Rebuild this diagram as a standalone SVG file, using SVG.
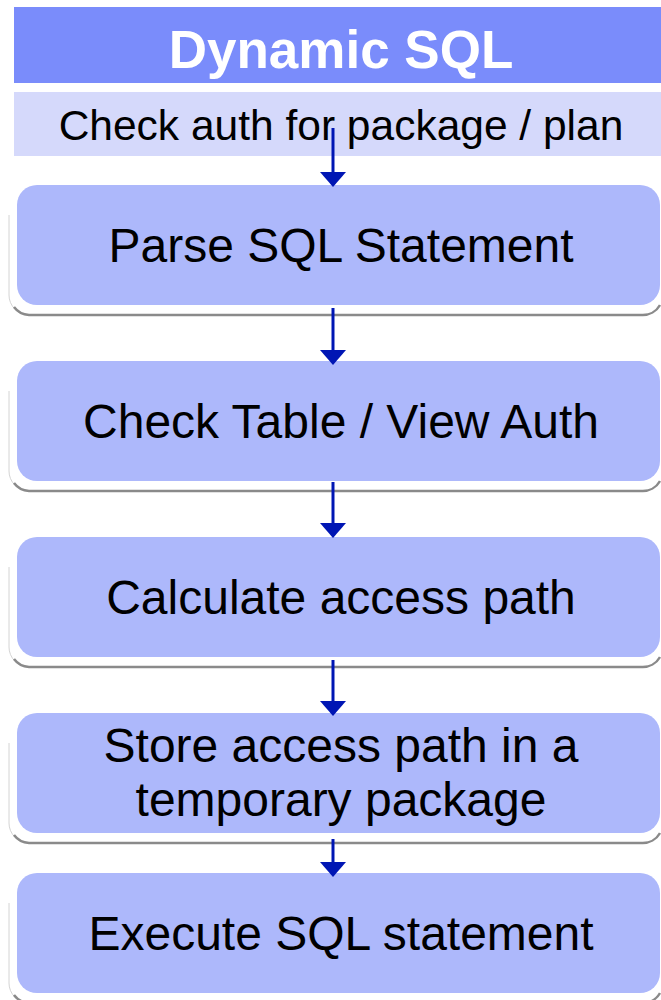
<svg xmlns="http://www.w3.org/2000/svg" width="661" height="1000" viewBox="0 0 661 1000">
<defs>
<style>
.box{fill:#adb8fb;}
.sleft{fill:none;stroke:#d4d4d4;stroke-width:1;}
.sbottom{fill:none;stroke:#8a8a8a;stroke-width:2.5;}
.lbl{font-family:"Liberation Sans",Arial,sans-serif;font-size:48px;fill:#000;text-anchor:middle;}
.shaft{stroke:#0016b4;stroke-width:3;fill:none;}
.head{fill:#0016b4;}
</style>
</defs>
<rect width="661" height="1000" fill="#ffffff"/>
<g id="title">
<rect x="14" y="7" width="660" height="76" fill="#7a8cfb"/>
<text x="341" y="68" font-family="Liberation Sans,Arial,sans-serif" font-size="53" font-weight="bold" fill="#ffffff" text-anchor="middle">Dynamic SQL</text>
</g>
<g id="check-auth">
<rect x="14" y="92" width="660" height="64" fill="#d5d9fb"/>
<text x="341" y="140" font-family="Liberation Sans,Arial,sans-serif" font-size="42.5" fill="#000" text-anchor="middle">Check auth for package / plan</text>
</g>
<g id="parse">
<path class="sleft" d="M9,215 V295 A20,20 0 0 0 29,315"/>
<path class="sbottom" d="M14,307 A20,20 0 0 0 29,315 H642 A20,20 0 0 0 660,305"/>
<rect class="box" x="17" y="185" width="643" height="120" rx="20"/>
<text class="lbl" x="341" y="262">Parse SQL Statement</text>
</g>
<g id="check-table">
<path class="sleft" d="M9,391 V471 A20,20 0 0 0 29,491"/>
<path class="sbottom" d="M14,483 A20,20 0 0 0 29,491 H642 A20,20 0 0 0 660,481"/>
<rect class="box" x="17" y="361" width="643" height="120" rx="20"/>
<text class="lbl" x="341" y="438">Check Table / View Auth</text>
</g>
<g id="calculate">
<path class="sleft" d="M9,567 V647 A20,20 0 0 0 29,667"/>
<path class="sbottom" d="M14,659 A20,20 0 0 0 29,667 H642 A20,20 0 0 0 660,657"/>
<rect class="box" x="17" y="537" width="643" height="120" rx="20"/>
<text class="lbl" x="341" y="614">Calculate access path</text>
</g>
<g id="store">
<path class="sleft" d="M9,743 V823 A20,20 0 0 0 29,843"/>
<path class="sbottom" d="M14,835 A20,20 0 0 0 29,843 H642 A20,20 0 0 0 660,833"/>
<rect class="box" x="17" y="713" width="643" height="120" rx="20"/>
<text class="lbl" x="341" y="762">Store access path in a</text>
<text class="lbl" x="341" y="816">temporary package</text>
</g>
<g id="execute">
<path class="sleft" d="M9,903 V983 A20,20 0 0 0 29,1003"/>
<path class="sbottom" d="M14,995 A20,20 0 0 0 29,1003 H642 A20,20 0 0 0 660,993"/>
<rect class="box" x="17" y="873" width="643" height="120" rx="20"/>
<text class="lbl" x="341" y="950">Execute SQL statement</text>
</g>
<g id="connectors">
<line class="shaft" x1="333" y1="128" x2="333" y2="173"/>
<polygon class="head" points="320,172 346,172 333,187"/>
<line class="shaft" x1="333" y1="308" x2="333" y2="351"/>
<polygon class="head" points="320,350 346,350 333,365"/>
<line class="shaft" x1="333" y1="482" x2="333" y2="524"/>
<polygon class="head" points="320,523 346,523 333,538"/>
<line class="shaft" x1="333" y1="660" x2="333" y2="702"/>
<polygon class="head" points="320,701 346,701 333,716"/>
<line class="shaft" x1="333" y1="839" x2="333" y2="863"/>
<polygon class="head" points="320,862 346,862 333,877"/>
</g>
</svg>
